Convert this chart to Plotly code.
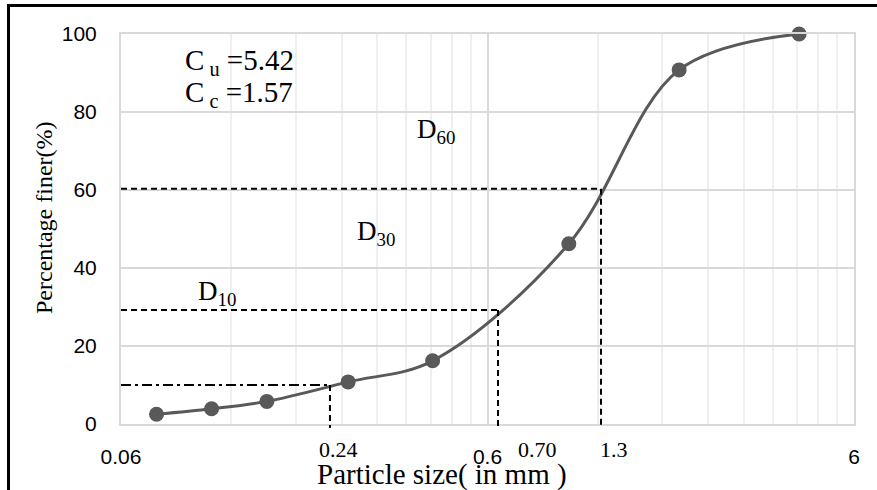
import plotly.graph_objects as go
import math

# ---- data ----
particle_size = [0.075, 0.106, 0.15, 0.25, 0.425, 1.0, 2.0, 4.25]
percent_finer = [2.5, 3.9, 5.8, 10.8, 16.2, 46.2, 90.8, 100]

d_names = ["10", "30", "60"]
d_sizes = [0.223, 0.641, 1.224]
d_percents = [10, 29.2, 60.3]
d_dashes = ["10px,4px,3px,4px", "6px,4px", "6px,4px"]

x_range = [0.06, 6]
y_range = [0, 100]
x_major = [0.06, 0.6, 6]
x_major_text = ["0.06", "0.6", "6"]
x_minor = [0.06 * k for k in range(2, 10)] + [0.6 * k for k in range(2, 10)]

size_labels = ["0.24", "0.70", "1.3"]
size_label_x = [0.236, 0.82, 1.33]

cu_text = "C<sub> u</sub> =5.42"
cc_text = "C<sub> c</sub> =1.57"

W, H = 877, 490
ML, MR, MT, MB = 121, 23, 34, 66
PW, PH = W - ML - MR, H - MT - MB

def px_x(p):
    return (p - ML) / PW

def px_y(p):
    return (H - MB - p) / PH

fig = go.Figure()
fig.add_trace(go.Scatter(
    x=particle_size, y=percent_finer, mode="lines+markers",
    line=dict(color="#595959", width=3, shape="spline", smoothing=1.0),
    marker=dict(color="#595959", size=15),
    showlegend=False, cliponaxis=False,
))

shapes = []
for dx, dy, dash in zip(d_sizes, d_percents, d_dashes):
    shapes.append(dict(type="line", xref="x", yref="y", x0=x_range[0], x1=dx, y0=dy, y1=dy,
                       line=dict(color="black", width=2, dash=dash)))
    yp = (dy - y_range[0]) / (y_range[1] - y_range[0])
    shapes.append(dict(type="line", xref="x", yref="paper", x0=dx, x1=dx, y0=yp, y1=-0.01,
                       line=dict(color="black", width=2, dash="6px,4px")))
# outer border (clipped by page on right/bottom)
shapes.append(dict(type="rect", xref="paper", yref="paper",
                   x0=px_x(8.5), x1=px_x(W + 20), y0=px_y(H + 20), y1=px_y(5.5),
                   line=dict(color="black", width=3), fillcolor="rgba(0,0,0,0)", layer="above"))

serif = "Liberation Serif, Times New Roman, serif"
sans = "Liberation Sans, Arial, sans-serif"

annotations = []
for txt, xv in zip(size_labels, size_label_x):
    annotations.append(dict(text=txt, x=math.log10(xv), xref="x", y=px_y(449), yref="paper",
                            showarrow=False, xanchor="center", yanchor="middle",
                            font=dict(family=serif, size=22, color="black")))
annotations.append(dict(text="Particle size( in mm )", x=px_x(442), y=px_y(474), xref="paper", yref="paper",
                        showarrow=False, xanchor="center", yanchor="middle",
                        font=dict(family=serif, size=29, color="black")))
annotations.append(dict(text="Percentage finer(%)", x=px_x(44), y=px_y(218), xref="paper", yref="paper",
                        showarrow=False, textangle=-90, xanchor="center", yanchor="middle",
                        font=dict(family=serif, size=24, color="black")))
annotations.append(dict(text=cu_text, x=px_x(183), y=px_y(62), xref="paper", yref="paper",
                        showarrow=False, xanchor="left", yanchor="middle",
                        font=dict(family=serif, size=29, color="black")))
annotations.append(dict(text=cc_text, x=px_x(183), y=px_y(94), xref="paper", yref="paper",
                        showarrow=False, xanchor="left", yanchor="middle",
                        font=dict(family=serif, size=29, color="black")))
d_label_pos = [(196, 293), (355, 233), (415, 131)]
for name, (lx, ly) in zip(d_names, d_label_pos):
    annotations.append(dict(text="D<sub>" + name + "</sub>", x=px_x(lx), y=px_y(ly), xref="paper", yref="paper",
                            showarrow=False, xanchor="left", yanchor="middle",
                            font=dict(family=serif, size=27, color="black")))

fig.update_layout(
    width=W, height=H,
    margin=dict(l=ML, r=MR, t=MT, b=MB, pad=0),
    paper_bgcolor="white", plot_bgcolor="white",
    shapes=shapes, annotations=annotations,
    xaxis=dict(type="log", range=[math.log10(x_range[0]), math.log10(x_range[1])],
               tickmode="array", tickvals=x_major, ticktext=x_major_text,
               showgrid=True, gridcolor="#d9d9d9", gridwidth=1.5,
               minor=dict(tickmode="array", tickvals=x_minor, showgrid=True, gridcolor="#efefef", gridwidth=1.5, ticks=""),
               showline=True, linecolor="#d9d9d9", linewidth=2, mirror=True,
               ticks="", ticklabelstandoff=13, zeroline=False,
               tickfont=dict(family=sans, size=21, color="black")),
    yaxis=dict(range=y_range, tickmode="linear", tick0=0, dtick=20,
               showgrid=True, gridcolor="#d9d9d9", gridwidth=1.5,
               showline=True, linecolor="#d9d9d9", linewidth=2, mirror=True,
               ticks="", ticklabelstandoff=18, zeroline=False,
               tickfont=dict(family=sans, size=21, color="black")),
)

fig.write_html("out.html")
